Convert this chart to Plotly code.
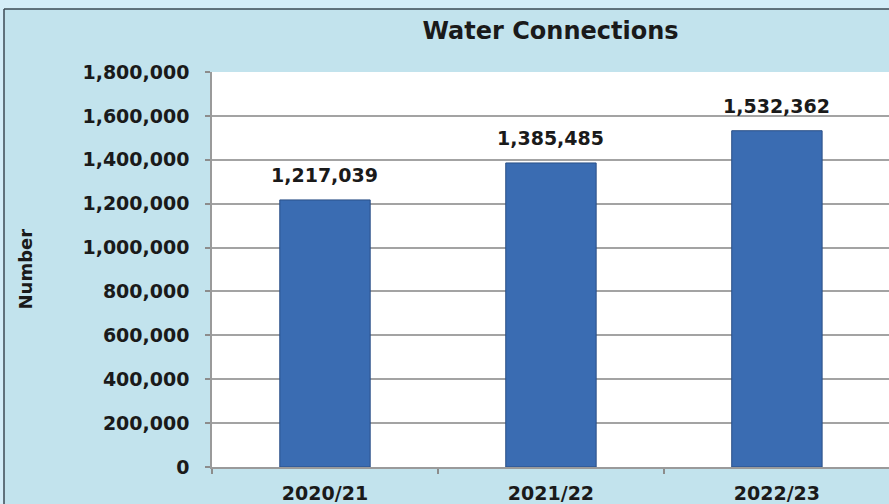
import plotly.graph_objects as go

categories = ["2020/21", "2021/22", "2022/23"]
connections = [1217039, 1385485, 1532362]
y_ticks = [0, 200000, 400000, 600000, 800000, 1000000, 1200000, 1400000, 1600000, 1800000]

W, H = 889, 504
L, R, T, B = 212, 0, 72, 37
pw, ph = W - L - R, H - T - B

def px_x(px):
    return (px - L) / pw

def px_y(py):
    return (H - B - py) / ph

FONT = "DejaVu Sans"
TXT = "#1a1a1a"

fig = go.Figure()
fig.add_trace(go.Bar(
    x=categories, y=connections, width=0.4,
    marker=dict(color="#3a6cb2", line=dict(color="#2a4f86", width=1)),
    hoverinfo="skip",
))

for c, v in zip(categories, connections):
    fig.add_annotation(x=c, y=v, text=f"{v:,}", showarrow=False,
                       yanchor="bottom", yshift=12,
                       font=dict(family=FONT, size=19, color=TXT, weight="bold"))

# y-axis title
fig.add_annotation(xref="paper", yref="paper", x=px_x(25), y=0.5, text="Number",
                   textangle=-90, showarrow=False, xanchor="center", yanchor="middle",
                   font=dict(family=FONT, size=18, color=TXT, weight="bold"))

shapes = [
    dict(type="rect", xref="paper", yref="paper", x0=px_x(0), x1=px_x(W), y0=px_y(9), y1=px_y(0),
         fillcolor="#d4edf8", line=dict(width=0), layer="above"),
    dict(type="rect", xref="paper", yref="paper", x0=px_x(0), x1=px_x(4), y0=px_y(H), y1=px_y(9),
         fillcolor="#d4edf8", line=dict(width=0), layer="above"),
    dict(type="line", xref="paper", yref="paper", x0=px_x(4), x1=px_x(W), y0=px_y(9), y1=px_y(9),
         line=dict(color="#3c4a54", width=1.5), layer="above"),
    dict(type="line", xref="paper", yref="paper", x0=px_x(4), x1=px_x(4), y0=px_y(9), y1=px_y(H),
         line=dict(color="#3c4a54", width=1.5), layer="above"),
]

fig.update_layout(
    width=W, height=H, autosize=False,
    margin=dict(l=L, r=R, t=T, b=B, pad=0),
    paper_bgcolor="#c2e3ed", plot_bgcolor="#ffffff",
    showlegend=False,
    shapes=shapes,
    title=dict(text="Water Connections", x=0.5, xref="paper", xanchor="center",
               y=1 - 31 / H, yref="container", yanchor="middle",
               font=dict(family=FONT, size=24, color=TXT, weight="bold")),
    xaxis=dict(range=[-0.5, 2.496], type="category", tickson="boundaries",
               ticks="outside", ticklen=5, tickcolor="#8c8c8c", tickwidth=1.5,
               showline=True, linecolor="#9a9a9a", linewidth=1.5,
               showgrid=False, ticklabelstandoff=8,
               tickfont=dict(family=FONT, size=19, color=TXT, weight="bold")),
    yaxis=dict(range=[0, 1800000], tickvals=y_ticks, tickformat=",d",
               ticks="outside", ticklen=5, tickcolor="#8c8c8c", tickwidth=1.5,
               showline=True, linecolor="#9a9a9a", linewidth=1.5,
               showgrid=True, gridcolor="#a3a3a3", gridwidth=1.5,
               zeroline=False, ticklabelstandoff=12,
               tickfont=dict(family=FONT, size=19, color=TXT, weight="bold")),
)

fig.write_html("out.html",
               config={"displayModeBar": False},
               post_script="document.body.style.margin='0';document.body.style.padding='0';")
